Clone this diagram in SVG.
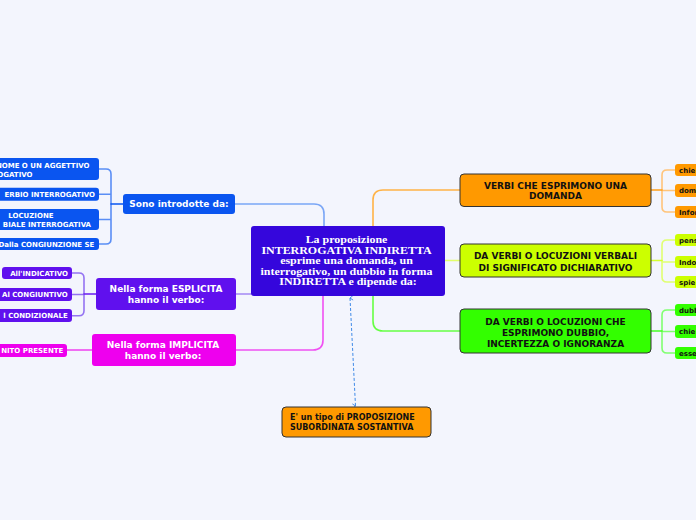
<svg xmlns="http://www.w3.org/2000/svg" width="696" height="520" viewBox="0 0 696 520">
<defs>
<style>
.sans{font-family:"DejaVu Sans","Verdana",sans-serif;font-weight:bold}
.h{font-size:9px}
.l{font-size:7px}
.w{fill:#ffffff}
.k{fill:#111111}
.c{text-anchor:middle}
.e{text-anchor:end}
.main{stroke:#333333;stroke-width:1}
.con{fill:none;stroke-width:1.6;stroke-linecap:round}
</style>
<marker id="arr" viewBox="0 0 8 8" refX="4" refY="1" markerWidth="6" markerHeight="6" orient="auto-start-reverse" markerUnits="userSpaceOnUse">
<path d="M1,5 L4,1 L7,5" fill="none" stroke="#3f8ae8" stroke-width="1.2"/>
</marker>
</defs>
<rect x="0" y="0" width="696" height="520" fill="#f3f5fd"/>

<g id="connectors">
<path class="con" d="M235,204 H314 Q324,204 324,214 V226" stroke="#7aa6f6"/>
<path class="con" d="M373,226 V200 Q373,190 383,190 H460" stroke="#ffb347"/>
<path class="con" d="M445,260.5 H460" stroke="#e2ff6a"/>
<path class="con" d="M236,294 H251" stroke="#a488f4"/>
<path class="con" d="M323,296 V340 Q323,350 313,350 H236" stroke="#f050f2"/>
<path class="con" d="M373,296 V321 Q373,331 383,331 H460" stroke="#66ff44"/>
<path class="con" d="M99,169 H106 Q111,169 111,174 V239 Q111,244 106,244 H99 M99,194.2 H111 M99,219.5 H111" stroke="#5a8ef5"/>
<path class="con" d="M111,204 H123" stroke="#0a55f0"/>
<path class="con" d="M72,273 H79 Q84,273 84,278 V310.7 Q84,315.7 79,315.7 H72 M72,294.5 H84" stroke="#9473f2"/>
<path class="con" d="M84,294 H96" stroke="#6a1cf0"/>
<path class="con" d="M67,350 H92" stroke="#f040f0"/>
<path class="con" d="M675,170 H667 Q662,170 662,175 V207 Q662,212 667,212 H675 M662,190.5 H675" stroke="#ffc47a"/>
<path class="con" d="M651,190 H662" stroke="#ff9f1a"/>
<path class="con" d="M675,240 H667 Q662,240 662,245 V277 Q662,282 667,282 H675 M662,262 H675" stroke="#e0ff70"/>
<path class="con" d="M651,260.5 H662" stroke="#d4ff30"/>
<path class="con" d="M675,310 H667 Q662,310 662,315 V348 Q662,353 667,353 H675 M662,331.5 H675" stroke="#80ff70"/>
<path class="con" d="M651,331 H662" stroke="#44ff22"/>
<path d="M350,298 L355.5,406" fill="none" stroke="#3f8ae8" stroke-width="1" stroke-dasharray="3,2" marker-start="url(#arr)" marker-end="url(#arr)"/>
</g>

<g id="central">
<rect x="251" y="226" width="194" height="70" rx="3" fill="#3506dc"/>
<g transform="translate(348,0) scale(1.15,1)">
<text x="0" y="243.5" font-family="Liberation Serif, Times New Roman, serif" font-weight="bold" font-size="10.4" fill="#ffffff" text-anchor="middle">
<tspan x="0" y="243.5">La proposizione</tspan>
<tspan x="0" y="253.9">INTERROGATIVA INDIRETTA</tspan>
<tspan x="0" y="264.3">esprime una domanda, un</tspan>
<tspan x="0" y="274.7">interrogativo, un dubbio in forma</tspan>
<tspan x="0" y="285.1">INDIRETTA e dipende da:</tspan>
</text>
</g>
</g>

<g id="sono">
<rect x="123" y="194" width="112" height="20" rx="3" fill="#0a55f0"/>
<text class="sans h w c" x="179" y="207.3">Sono introdotte da:</text>
</g>
<g id="leaf-pronome">
<rect x="-20" y="158" width="119" height="22" rx="3" fill="#0a55f0"/>
<text class="sans l w e" x="89.5" y="168.2">NOME O UN AGGETTIVO</text>
<text class="sans l w e" x="32.5" y="176.6">OGATIVO</text>
</g>
<g id="leaf-avverbio">
<rect x="-20" y="187.7" width="119" height="13" rx="3" fill="#0a55f0"/>
<text class="sans l w e" x="95" y="196.8">ERBIO INTERROGATIVO</text>
</g>
<g id="leaf-locuzione">
<rect x="-20" y="209" width="119" height="21" rx="3" fill="#0a55f0"/>
<text class="sans l w" x="8.3" y="218">LOCUZIONE</text>
<text class="sans l w e" x="91" y="226.6">BIALE INTERROGATIVA</text>
</g>
<g id="leaf-se">
<rect x="-20" y="238" width="119" height="12" rx="3" fill="#0a55f0"/>
<text class="sans l w e" x="94.3" y="246.6">Dalla CONGIUNZIONE SE</text>
</g>

<g id="esplicita">
<rect x="96" y="278" width="140" height="32" rx="3" fill="#6010ee"/>
<text class="sans h w c" x="166" y="292.3">Nella forma ESPLICITA</text>
<text class="sans h w c" x="166" y="303.3">hanno il verbo:</text>
</g>
<g id="leaf-indicativo">
<rect x="2" y="267" width="70" height="12" rx="3" fill="#6010ee"/>
<text class="sans l w e" x="68" y="275.8">All'INDICATIVO</text>
</g>
<g id="leaf-congiuntivo">
<rect x="-20" y="288" width="92" height="13" rx="3" fill="#6010ee"/>
<text class="sans l w e" x="67.7" y="297">Al CONGIUNTIVO</text>
</g>
<g id="leaf-condizionale">
<rect x="-20" y="309" width="92" height="13" rx="3" fill="#6010ee"/>
<text class="sans l w e" x="67.7" y="318.3">l CONDIZIONALE</text>
</g>

<g id="implicita">
<rect x="92" y="334" width="144" height="32" rx="3" fill="#ee00ee"/>
<text class="sans h w c" x="163" y="348.3">Nella forma IMPLICITA</text>
<text class="sans h w c" x="163" y="359.3">hanno il verbo:</text>
</g>
<g id="leaf-infinito">
<rect x="-20" y="344" width="87" height="13" rx="3" fill="#ee00ee"/>
<text class="sans l w e" x="63.3" y="352.6">NITO PRESENTE</text>
</g>

<g id="domanda">
<rect class="main" x="460" y="174" width="191" height="32.5" rx="4" fill="#ff9900"/>
<text class="sans h k c" x="555.5" y="189">VERBI CHE ESPRIMONO UNA</text>
<text class="sans h k c" x="555.5" y="199.3">DOMANDA</text>
</g>
<g id="leaf-chie1"><rect x="675" y="164" width="30" height="12" rx="3" fill="#ff9900"/><text class="sans l k" x="679" y="172.6">chie</text></g>
<g id="leaf-dom"><rect x="675" y="184" width="30" height="13" rx="3" fill="#ff9900"/><text class="sans l k" x="679" y="193.1">dom</text></g>
<g id="leaf-infor"><rect x="675" y="206" width="30" height="12" rx="3" fill="#ff9900"/><text class="sans l k" x="679" y="214.6">Infor</text></g>

<g id="dichiarativo">
<rect class="main" x="460" y="244" width="191" height="33" rx="4" fill="#ccff00"/>
<text class="sans h k c" x="555.5" y="259.3">DA VERBI O LOCUZIONI VERBALI</text>
<text class="sans h k c" x="555.5" y="270.6">DI SIGNIFICATO DICHIARATIVO</text>
</g>
<g id="leaf-pens"><rect x="675" y="234" width="30" height="12" rx="3" fill="#ccff00"/><text class="sans l k" x="679" y="242.6">pens</text></g>
<g id="leaf-indo"><rect x="675" y="256" width="30" height="12" rx="3" fill="#ccff00"/><text class="sans l k" x="679" y="264.6">Indo</text></g>
<g id="leaf-spie"><rect x="675" y="276" width="30" height="12" rx="3" fill="#ccff00"/><text class="sans l k" x="679" y="284.6">spie</text></g>

<g id="dubbio">
<rect class="main" x="460" y="309" width="191" height="44" rx="4" fill="#33ff00"/>
<text class="sans h k c" x="555.5" y="325.3">DA VERBI O LOCUZIONI CHE</text>
<text class="sans h k c" x="555.5" y="336">ESPRIMONO DUBBIO,</text>
<text class="sans h k c" x="555.5" y="346.7">INCERTEZZA O IGNORANZA</text>
</g>
<g id="leaf-dubb"><rect x="675" y="304" width="30" height="12" rx="3" fill="#33ff00"/><text class="sans l k" x="679" y="312.6">dubb</text></g>
<g id="leaf-chie2"><rect x="675" y="325" width="30" height="13" rx="3" fill="#33ff00"/><text class="sans l k" x="679" y="334">chie</text></g>
<g id="leaf-esse"><rect x="675" y="347" width="30" height="12" rx="3" fill="#33ff00"/><text class="sans l k" x="679" y="355.6">esse</text></g>

<g id="subordinata">
<rect class="main" x="282" y="407" width="149" height="30" rx="4" fill="#ff9900"/>
<text class="sans k" font-size="8" x="290" y="420.2">E' un tipo di PROPOSIZIONE</text>
<text class="sans k" font-size="8" x="290" y="429.6">SUBORDINATA SOSTANTIVA</text>
</g>
</svg>
